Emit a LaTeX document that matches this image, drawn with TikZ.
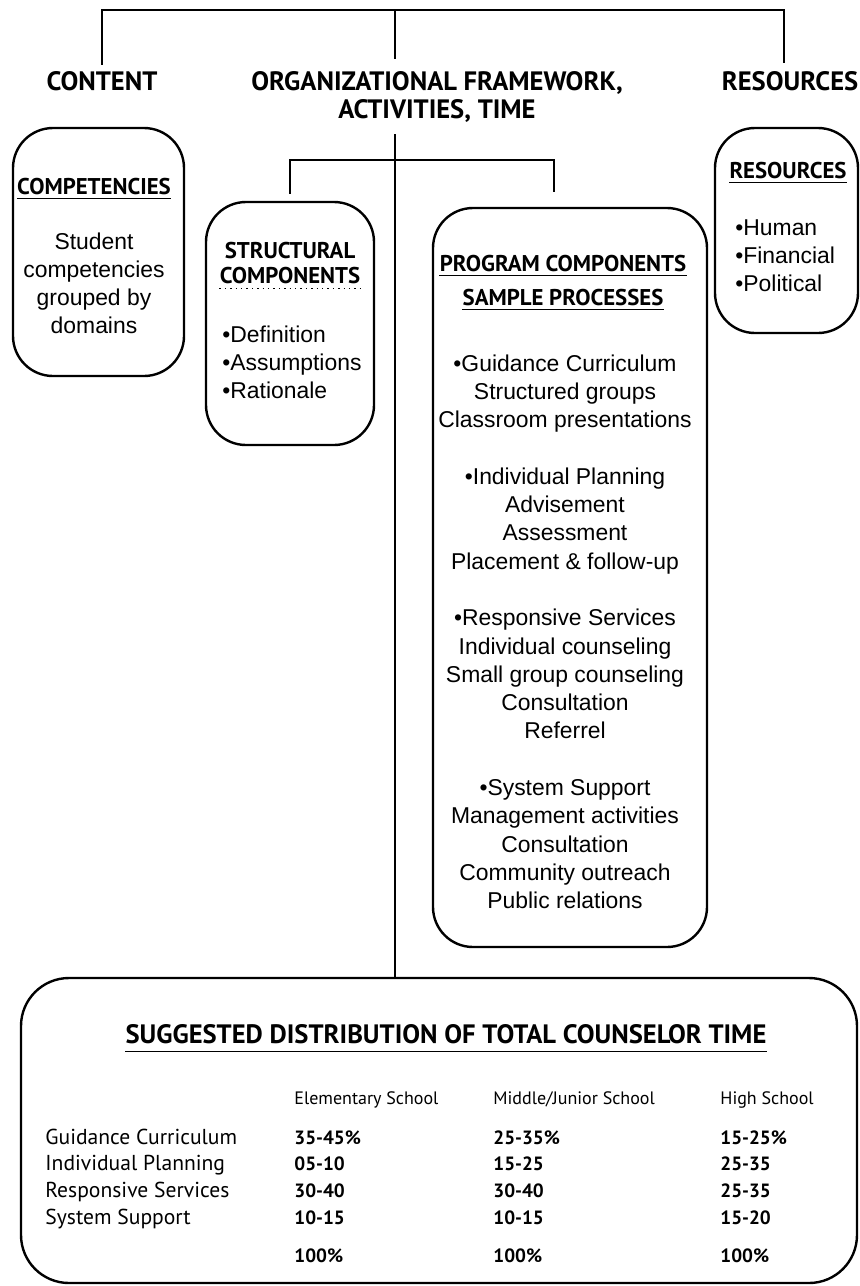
\documentclass[tikz,border=0pt]{standalone}
\usepackage{fontspec}
\setmainfont{Liberation Sans}
\newfontfamily\headfont{PT Sans}
\usetikzlibrary{positioning,fit}

\tikzset{
  roundbox/.style={draw, line width=1.2pt, rounded corners=20pt, inner sep=0pt},
  link/.style={line width=1pt},
  uline/.style={line width=0.7pt},
  tophead/.style={font=\headfont\bfseries\fontsize{13.3}{15}\selectfont, inner sep=0pt, anchor=base},
  boxhead/.style={font=\headfont\bfseries\fontsize{11.4}{14}\selectfont, inner sep=0pt, anchor=base},
  body/.style={font=\fontsize{11.45}{14.15}\selectfont, inner sep=0pt, align=center, anchor=north},
  bullets/.style={body, align=left, anchor=north west},
  tabhead/.style={font=\headfont\fontsize{9}{11}\selectfont, inner sep=0pt, anchor=base west},
  tablabel/.style={font=\headfont\fontsize{10.8}{12}\selectfont, inner sep=0pt, anchor=base west},
  tabval/.style={font=\headfont\bfseries\fontsize{9.6}{12}\selectfont, inner sep=0pt, anchor=base west}
}

\begin{document}
\begin{tikzpicture}[x=0.5pt, y=-0.5pt]
    \useasboundingbox[fill=white] (0,0) rectangle (859,1286);

    % top headings
    \node[tophead] (content) at (102,90) {CONTENT};
    \node[tophead] (orgframe) at (437,90) {ORGANIZATIONAL FRAMEWORK,};
    \node[tophead] (orgtime) at (437,118) {ACTIVITIES, TIME};
    \node[tophead] (resources) at (790,90) {RESOURCES};

    % boxes
    \node[roundbox, fit={(13,128) (184,376)}] (compbox) {};
    \node[roundbox, fit={(206,202) (374,445)}] (structbox) {};
    \node[roundbox, fit={(433,208) (707,947)}] (progbox) {};
    \node[roundbox, fit={(715,128) (858,333)}] (resbox) {};
    \node[roundbox, rounded corners=24pt, fit={(21,978) (857,1283)}] (distbox) {};

    % brackets
    \coordinate (bar) at (395,10);
    \coordinate (subbar) at (395,160);
    \coordinate (orgtop) at ([yshift=6pt]orgframe.north);
    \coordinate (orgbot) at ([yshift=-6pt]orgtime.south);
    \draw[link] ([yshift=3pt]content.north) |- (bar) -| ([xshift=-3pt, yshift=4pt]resources.north);
    \draw[link] (bar) -- (bar |- orgtop);
    \draw[link] (bar |- orgbot) -- (bar |- distbox.north);
    \draw[link] ([yshift=3.5pt]structbox.north) |- (subbar) -| ([xshift=-8pt, yshift=7.5pt]progbox.north);

    % competencies
    \node[boxhead] (comptitle) at (94,194) {COMPETENCIES};
    \draw[uline] ([yshift=-2pt]comptitle.south west) -- ([yshift=-2pt]comptitle.south east);
    \node[body] (comptext) at (94,232) {Student\\competencies\\grouped by\\domains};

    % structural components
    \node[boxhead] (structtitle) at (290,258) {STRUCTURAL};
    \node[boxhead] (structsub) at (290,283) {COMPONENTS};
    \draw[uline, dotted] ([yshift=-2.5pt]structsub.south west) -- ([yshift=-2.5pt]structsub.south east);
    \node[bullets] (structtext) at (222,325) {•Definition\\•Assumptions\\•Rationale};

    % program components
    \node[boxhead] (progtitle) at (563,271) {PROGRAM COMPONENTS};
    \draw[uline] ([yshift=-2pt]progtitle.south west) -- ([yshift=-2pt]progtitle.south east);
    \node[boxhead] (progsample) at (563,305) {SAMPLE PROCESSES};
    \draw[uline] ([yshift=-2pt]progsample.south west) -- ([yshift=-2pt]progsample.south east);
    \node[body] (progtext) at (565,354) {•Guidance Curriculum\\Structured groups\\Classroom presentations\\[14.15pt]
        •Individual Planning\\Advisement\\Assessment\\Placement \& follow-up\\[14.15pt]
        •Responsive Services\\Individual counseling\\Small group counseling\\Consultation\\Referrel\\[14.15pt]
        •System Support\\Management activities\\Consultation\\Community outreach\\Public relations};

    % resources
    \node[boxhead] (restitle) at (788,178) {RESOURCES};
    \draw[uline] ([yshift=-2pt]restitle.south west) -- ([yshift=-2pt]restitle.south east);
    \node[bullets] (restext) at (735,219) {•Human\\•Financial\\•Political};

    % distribution table
    \node[tophead] (disttitle) at (446,1043) {SUGGESTED DISTRIBUTION OF TOTAL COUNSELOR TIME};
    \draw[uline] ([yshift=-4pt]disttitle.south west) -- ([yshift=-4pt]disttitle.south east);

    \node[tabhead] (elem) at (294,1104) {Elementary School};
    \node[tabhead] (middle) at (493,1104) {Middle/Junior School};
    \node[tabhead] (high) at (720,1104) {High School};

    \node[tablabel] (guid) at (45,1144) {Guidance Curriculum};
    \node[tabval] (guid1) at (294,1144) {35-45\%};
    \node[tabval] (guid2) at (493,1144) {25-35\%};
    \node[tabval] (guid3) at (720,1144) {15-25\%};

    \node[tablabel] (indiv) at (45,1170) {Individual Planning};
    \node[tabval] (indiv1) at (294,1170) {05-10};
    \node[tabval] (indiv2) at (493,1170) {15-25};
    \node[tabval] (indiv3) at (720,1170) {25-35};

    \node[tablabel] (resp) at (45,1197) {Responsive Services};
    \node[tabval] (resp1) at (294,1197) {30-40};
    \node[tabval] (resp2) at (493,1197) {30-40};
    \node[tabval] (resp3) at (720,1197) {25-35};

    \node[tablabel] (sys) at (45,1224) {System Support};
    \node[tabval] (sys1) at (294,1224) {10-15};
    \node[tabval] (sys2) at (493,1224) {10-15};
    \node[tabval] (sys3) at (720,1224) {15-20};

    \node[tabval] (total1) at (294,1262) {100\%};
    \node[tabval] (total2) at (493,1262) {100\%};
    \node[tabval] (total3) at (720,1262) {100\%};
\end{tikzpicture}
\end{document}
